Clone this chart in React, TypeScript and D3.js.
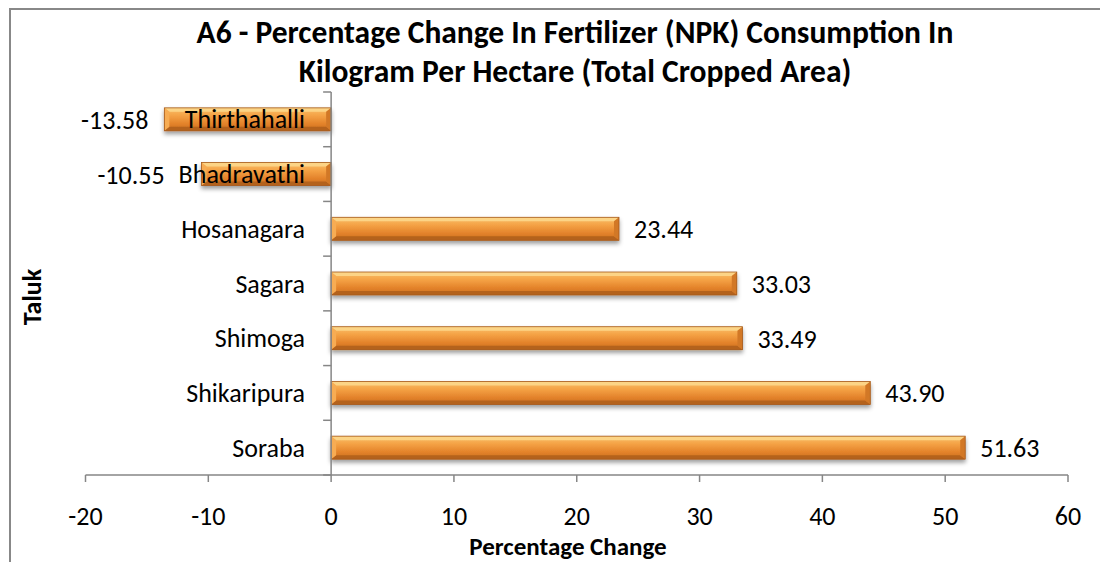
import React, { useMemo } from "react";
import * as d3 from "d3";

const categories = ["Thirthahalli", "Bhadravathi", "Hosanagara", "Sagara", "Shimoga", "Shikaripura", "Soraba"];
const values = [-13.58, -10.55, 23.44, 33.03, 33.49, 43.9, 51.63];
const xTicks = [-20, -10, 0, 10, 20, 30, 40, 50, 60];
const titleLines = [
  "A6 - Percentage Change In Fertilizer (NPK) Consumption In",
  "Kilogram Per Hectare (Total Cropped Area)",
];

const FONT = "Carlito, Calibri, Lato, 'Open Sans', sans-serif";
const LABEL_SIZE = 26;

export default function App() {
  const W = 1100, H = 562;
  const x = d3.scaleLinear().domain([-20, 60]).range([85.5, 1068]);
  const y = d3.scaleBand<string>().domain(categories).range([92, 475]).paddingInner(0.58).paddingOuter(0.29);
  const bh = y.bandwidth();
  const step = y.step();
  const x0 = x(0);
  const b = 5;
  const catRight = 305;

  const catWidths = useMemo(() => {
    const cv = document.createElement("canvas");
    const ctx = cv.getContext("2d");
    if (!ctx) return categories.map((c) => c.length * LABEL_SIZE * 0.48);
    ctx.font = `${LABEL_SIZE}px ${FONT}`;
    return categories.map((c) => ctx.measureText(c).width);
  }, []);

  return (
    <svg width={W} height={H} style={{ position: "absolute", left: 0, top: 0, fontFamily: FONT }}>
      <defs>
        <linearGradient id="barGrad" x1="0" y1="0" x2="0" y2="1">
          <stop offset="0" stopColor="#FAC06A" />
          <stop offset="0.35" stopColor="#F4A144" />
          <stop offset="0.7" stopColor="#E3822A" />
          <stop offset="1" stopColor="#C96E22" />
        </linearGradient>
        <filter id="shadow" x="-5%" y="-50%" width="110%" height="220%">
          <feDropShadow dx="0" dy="3" stdDeviation="2.2" floodColor="#000" floodOpacity="0.38" />
        </filter>
      </defs>
      <rect x={0} y={0} width={W} height={H} fill="#fff" />
      {/* chart frame */}
      <rect x={10} y={9} width={W + 20} height={H + 20} fill="#fff" stroke="#888" strokeWidth={2} />

      {/* title */}
      {titleLines.map((t, i) => (
        <text key={i} x={575} y={43 + i * 39} textAnchor="middle" fontWeight="bold" fontSize={31.5} fill="#000">
          {t}
        </text>
      ))}

      {/* bars */}
      {values.map((v, i) => {
        const c = categories[i];
        const ya = y(c)!;
        const yb = ya + bh;
        const xa = Math.min(x(v), x0);
        const xb = Math.max(x(v), x0);
        return (
          <g key={c} filter="url(#shadow)">
            <rect x={xa} y={ya} width={xb - xa} height={bh} fill="url(#barGrad)" />
            <polygon points={`${xa},${ya} ${xb},${ya} ${xb - b},${ya + 4} ${xa + b},${ya + 4}`} fill="#FCD486" />
            <polygon points={`${xa},${yb} ${xb},${yb} ${xb - b},${yb - 4} ${xa + b},${yb - 4}`} fill="#B4621E" />
            <polygon points={`${xa},${ya} ${xa + b},${ya + 4} ${xa + b},${yb - 4} ${xa},${yb}`} fill="#F7AC52" />
            <polygon points={`${xb},${ya} ${xb - b},${ya + 4} ${xb - b},${yb - 4} ${xb},${yb}`} fill="#D27828" />
            <rect x={xa} y={ya} width={xb - xa} height={bh} fill="none" stroke="#A55A1C" strokeWidth={0.8} />
          </g>
        );
      })}

      {/* y axis */}
      <line x1={x0} x2={x0} y1={92} y2={475} stroke="#868686" strokeWidth={1.5} />
      {d3.range(categories.length + 1).map((k) => (
        <line key={k} x1={x0 - 8} x2={x0} y1={92 + k * step} y2={92 + k * step} stroke="#868686" strokeWidth={1.5} />
      ))}
      {/* x axis */}
      <line x1={x(-20)} x2={x(60)} y1={475} y2={475} stroke="#868686" strokeWidth={1.5} />
      {xTicks.map((t) => (
        <g key={t}>
          <line x1={x(t)} x2={x(t)} y1={475} y2={482} stroke="#868686" strokeWidth={1.5} />
          <text x={x(t)} y={525} textAnchor="middle" fontSize={LABEL_SIZE} fill="#000">
            {t}
          </text>
        </g>
      ))}

      {/* category labels */}
      {categories.map((c) => (
        <text key={c} x={catRight} y={y(c)! + bh / 2 + 9} textAnchor="end" fontSize={LABEL_SIZE} fill="#000">
          {c}
        </text>
      ))}

      {/* value labels */}
      {values.map((v, i) => {
        const c = categories[i];
        const pos = v >= 0;
        const negX = Math.min(x(v) - 16, catRight - catWidths[i] - 14);
        return (
          <text key={c} x={pos ? x(v) + 15 : negX} y={y(c)! + bh / 2 + 9.5} textAnchor={pos ? "start" : "end"} fontSize={LABEL_SIZE} fill="#000">
            {v.toFixed(2)}
          </text>
        );
      })}

      {/* axis titles */}
      <text x={568} y={555} textAnchor="middle" fontWeight="bold" fontSize={25} fill="#000">
        Percentage Change
      </text>
      <text transform="translate(41,297) rotate(-90)" textAnchor="middle" fontWeight="bold" fontSize={26} fill="#000">
        Taluk
      </text>
    </svg>
  );
}
